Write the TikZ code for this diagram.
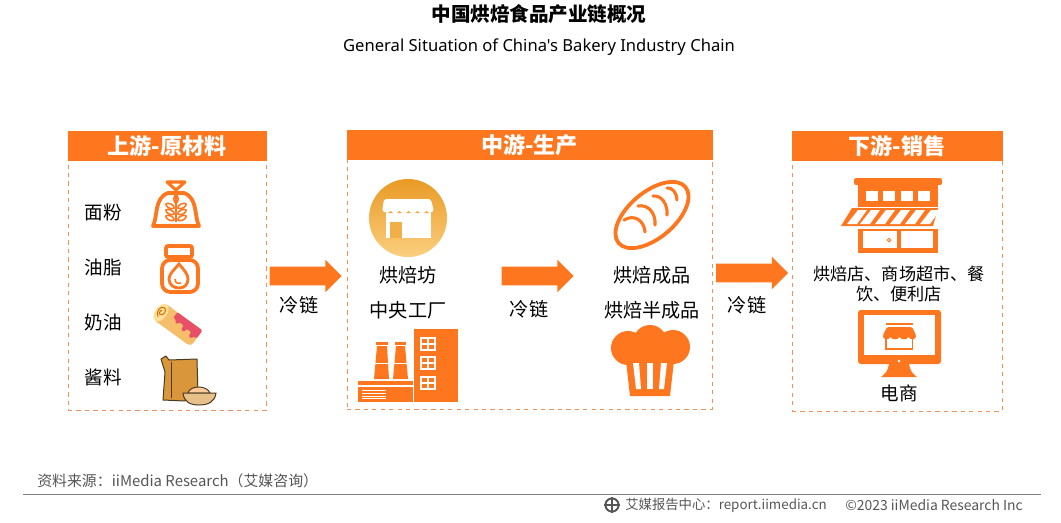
\documentclass[tikz,border=0pt]{standalone}
\usepackage{fontspec}
\setmainfont{Noto Sans CJK SC}
\newfontfamily\latinfont{Noto Sans}
\usetikzlibrary{shapes.geometric, shapes.arrows}
\definecolor{bakeorange}{HTML}{FE771F}
\definecolor{dashorange}{HTML}{F0935A}
\definecolor{footgrey}{HTML}{555555}
\definecolor{rollbody}{HTML}{F6BE6A}
\definecolor{rollend}{HTML}{FBE09A}
\definecolor{rollpink}{HTML}{E8506A}
\definecolor{packbrown}{HTML}{D9963A}
\definecolor{packline}{HTML}{4A3A22}
\definecolor{shoptop}{HTML}{E99A25}
\definecolor{shopbottom}{HTML}{FBCF7F}
\tikzstyle{panel} = [rectangle, draw=dashorange, dashed, line width=0.6pt, inner sep=0pt]
\tikzstyle{header} = [rectangle, fill=bakeorange, draw=bakeorange, line width=0.6pt, text=white, inner sep=0pt,
    minimum height=0.725cm, font=\fontsize{15.7pt}{18pt}\selectfont\bfseries]
\tikzstyle{item} = [inner sep=0pt, text centered, font=\fontsize{13.2pt}{14.4pt}\selectfont]
\tikzstyle{bigitem} = [item, font=\fontsize{13.6pt}{14.4pt}\selectfont]
\tikzstyle{bigarrow} = [single arrow, fill=bakeorange, inner sep=0.225cm,
    minimum height=1.8cm, minimum width=0.8cm, single arrow head extend=0.175cm,
    single arrow tip angle=90]
\tikzstyle{iconline} = [draw=bakeorange, line width=2.7pt]
\tikzstyle{thinline} = [draw=bakeorange, line width=1.1pt]
\tikzstyle{foot} = [inner sep=0pt, text=footgrey]

\begin{document}
\begin{tikzpicture}[x=0.025cm, y=-0.025cm, node distance=1.375cm]
        \useasboundingbox (0,0) rectangle (1061,522);

        % Titles
        \node (title) [inner sep=0pt, font=\fontsize{13.9pt}{16pt}\selectfont\bfseries] at (539,14) {中国烘焙食品产业链概况};
        \node (subtitle) [inner sep=0pt, font=\fontsize{11.8pt}{14pt}\selectfont\latinfont] at (539,47) {General Situation of China's Bakery Industry Chain};

        % Panels
        \node (upbox) [panel, minimum width=4.95cm, minimum height=6.975cm] at (167,270.5) {};
        \node (midbox) [panel, minimum width=9.125cm, minimum height=6.975cm] at (529.5,269.5) {};
        \node (downbox) [panel, minimum width=5.25cm, minimum height=7cm] at (897,271) {};
        \node (uphead) [header, minimum width=4.95cm] at (167,145.5) {上游-原材料};
        \node (midhead) [header, minimum width=9.125cm] at (529.5,145) {中游-生产};
        \node (downhead) [header, minimum width=5.25cm] at (897,146) {下游-销售};

        % Upstream labels
        \node (flour) [item] at (103.5,212.5) {面粉};
        \node (oil) [item, below of=flour] {油脂};
        \node (cream) [item, below of=oil] {奶油};
        \node (sauce) [item, below of=cream] {酱料};

        % Midstream labels
        \node (bakery) [bigitem] at (408,275) {烘焙坊};
        \node (central) [bigitem] at (408,310) {中央工厂};
        \node (finished) [bigitem] at (652,275) {烘焙成品};
        \node (semi) [bigitem] at (652,310) {烘焙半成品};

        % Downstream labels
        \node (shops) [item, text width=4.7cm, font=\fontsize{12.2pt}{14.2pt}\selectfont] at (899,283.5) {烘焙店、商场超市、餐\\饮、便利店};
        \node (online) [item] at (899,393) {电商};

        % Arrows
        \node (arrow1) [bigarrow] at (301,276) {};
        \node (arrow2) [bigarrow] at (533,276) {};
        \node (arrow3) [bigarrow] at (747.5,273) {};
        \node (cold1) [bigitem] at (299,305) {冷链};
        \node (cold2) [bigitem] at (529,309) {冷链};
        \node (cold3) [bigitem] at (747,305) {冷链};

        % Flour bag
        \draw [iconline, line width=2.2pt, line join=round] (167,182) -- (185,182) -- (176,190) -- cycle;
        \draw [iconline, line join=round] (168,193) -- (184,193) .. controls (198,198) and (194,216) .. (199,226) -- (153,226) .. controls (158,216) and (154,198) .. (168,193) -- cycle;
        \draw [thinline] (176,196) -- (176,222);
        \foreach \y in {206,212,218} {
            \draw [thinline, rotate around={-25:(170,\y)}] (170,\y) ellipse (4.5 and 2.2);
            \draw [thinline, rotate around={25:(182,\y)}] (182,\y) ellipse (4.5 and 2.2);
        }
        \draw [thinline] (176,199) ellipse (2.2 and 4);

        % Oil jar
        \draw [iconline, rounded corners=1.5pt] (166,246) rectangle (192,257);
        \draw [iconline, rounded corners=6pt] (162,260) rectangle (198,292);
        \draw [iconline, line width=2pt] (179,264) .. controls (174,270) and (169,274) .. (169,279) .. controls (169,285) and (174,288) .. (179,288) .. controls (184,288) and (188,285) .. (188,279) .. controls (188,274) and (184,270) .. (179,264) -- cycle;
        \draw [thinline] (175,279) .. controls (175,283) and (178,284) .. (181,283);

        % Cream roll
        \begin{scope}[shift={(178,325)}, rotate=-36]
            \fill [rollbody, rounded corners=3pt] (-24,-10) rectangle (23,10);
            \fill [rollpink, rounded corners=1pt] (-8,-10) -- (23,-10) -- (23,0) -- (19,0) -- (19,3) -- (15,3) -- (15,-2) -- (9,-2) -- (9,2) -- (5,2) -- (5,-3) -- (-1,-3) -- (-1,0) -- (-4,0) -- (-4,-3) -- (-8,-3) -- cycle;
            \fill [rollend] (-21,0) ellipse (6 and 10);
            \draw [orange!85!black, line width=0.7pt] (-21,5) .. controls (-26,3) and (-26,-6) .. (-21,-6) .. controls (-17,-6) and (-17,2) .. (-21,2) .. controls (-23,2) and (-23,-3) .. (-21,-2);
        \end{scope}

        % Sauce pack
        \draw [draw=packline, fill=packbrown, line width=0.7pt, line join=round] (161,359) -- (166,356) -- (169,360) -- (197,359) -- (198,395) -- (185,401) -- (163,400) -- (165,372) -- cycle;
        \draw [draw=packline, line width=0.4pt] (171,362) -- (171,398);
        \draw [draw=packline, fill=orange!40!white, line width=0.7pt] (188,393) .. controls (190,385) and (207,385) .. (210,393) -- cycle;
        \draw [draw=packline, fill=packbrown!60!white, line width=0.7pt] (183,393) -- (216,393) .. controls (215,402) and (208,405) .. (199,405) .. controls (190,405) and (184,402) .. (183,393) -- cycle;

        % Bakery shop
        \node (shopcircle) [circle, minimum size=1.95cm, inner sep=0pt, top color=shoptop, bottom color=shopbottom] at (408,218) {};
        \fill [white, rounded corners=2pt] (384,199) -- (431,199) -- (434,212) -- (382,212) -- cycle;
        \fill [white] (386,212) rectangle (431,238);
        \fill [shoptop!60!shopbottom] (390,222) rectangle (402,238);
        \foreach \x in {388,397,406,415,424} {
            \fill [shoptop!70!shopbottom] (\x,213) -- (\x+5,213) -- (\x+2.5,211) -- cycle;
        }

        % Central factory
        \fill [bakeorange] (414,329) rectangle (458,402);
        \fill [bakeorange] (358,387) rectangle (413,402);
        \fill [bakeorange] (358,381) rectangle (413,384.5);
        \fill [bakeorange] (374,379) -- (377,346) -- (387,346) -- (389,379) -- cycle;
        \fill [bakeorange] (393,379) -- (396,346) -- (405,346) -- (408,379) -- cycle;
        \fill [bakeorange] (376,342) rectangle (388,344.5);
        \fill [bakeorange] (395,342) rectangle (406,344.5);
        \fill [white] (375,363) rectangle (389,364);
        \fill [white] (394,363) rectangle (408,364);
        \foreach \y in {338,357,377} {
            \draw [white, line width=0.9pt] (421,\y) rectangle (435,\y+12) (428,\y) -- (428,\y+12) (421,\y+6) -- (435,\y+6);
        }
        \foreach \y in {390,393,396,398.5} {
            \draw [white, line width=0.6pt] (362,\y) -- (386,\y);
        }

        % Bread
        \node (bread) [ellipse, draw=bakeorange, line width=2.7pt, rotate=40, inner sep=0pt, minimum width=2.18cm, minimum height=1.15cm] at (652,215) {};
        \draw [iconline, line width=2.2pt, line cap=round] (624,220) .. controls (634,214) and (644,220) .. (645,232);
        \draw [iconline, line width=2.2pt, line cap=round] (638,206) .. controls (648,204) and (656,213) .. (655,225);
        \draw [iconline, line width=2.2pt, line cap=round] (653,196) .. controls (662,195) and (668,205) .. (667,215);
        \draw [iconline, line width=2.2pt, line cap=round] (667,188) .. controls (672,187) and (677,193) .. (677,200);

        % Chef hat
        \fill [bakeorange] (628,348) circle (17);
        \fill [bakeorange] (650,342) circle (17);
        \fill [bakeorange] (673,347) circle (17);
        \fill [bakeorange] (625,352) -- (675,352) -- (670,396) -- (630,396) -- cycle;
        \fill [white] (633,363) -- (639,363) -- (641,389) -- (636,389) -- cycle;
        \fill [white] (647,363) -- (653,363) -- (653,389) -- (647,389) -- cycle;
        \fill [white] (661,363) -- (667,363) -- (664,389) -- (659,389) -- cycle;

        % Store
        \fill [bakeorange, rounded corners=1.5pt] (854,178) rectangle (942,185);
        \fill [bakeorange] (858,185) rectangle (938,207);
        \foreach \x in {866,883,901,918} {
            \fill [white] (\x,191) rectangle (\x+12,201);
        }
        \fill [bakeorange] (852,208) -- (938,208) -- (933,226) -- (841,226) -- cycle;
        \foreach \x in {847,860,875,890,905,920} {
            \fill [white] (\x,224) -- (\x+10,224) -- (\x+20,210) -- (\x+11,210) -- cycle;
        }
        \fill [bakeorange] (858,229) rectangle (938,253);
        \fill [white] (863,231) rectangle (897,248);
        \fill [white] (901,231) rectangle (933,248);
        \draw [bakeorange, line width=0.7pt] (889,240) circle (1.8);

        % Monitor
        \fill [bakeorange, rounded corners=2pt] (858,310) rectangle (941,364);
        \fill [white] (864,315) rectangle (935,355);
        \fill [white] (899,361) circle (1.3);
        \fill [bakeorange] (889,364) -- (909,364) .. controls (910,371) and (913,374) .. (917,377) -- (881,377) .. controls (885,374) and (888,371) .. (889,364) -- cycle;
        \fill [bakeorange] (886,323) rectangle (913,325);
        \fill [bakeorange, rounded corners=1pt] (887,327) -- (912,327) -- (916,335) .. controls (916,340) and (910,340) .. (908.5,336) .. controls (907,340) and (901,340) .. (899.5,336) .. controls (898,340) and (892,340) .. (890.5,336) .. controls (889,340) and (883,340) .. (883,335) -- cycle;
        \draw [thinline] (886,339) -- (886,349) -- (912.5,349) -- (912.5,339);

        % Footer
        \node (source) [foot, anchor=west, font=\fontsize{10.6pt}{12pt}\selectfont] at (37,481) {资料来源：iiMedia Research（艾媒咨询）};
        \coordinate (ruleleft) at (23,494.5);
        \coordinate (ruleright) at (1041,494.5);
        \draw [footgrey!75, line width=1.3pt] (ruleleft) -- (ruleright);
        \node (globe) [circle, draw=footgrey, line width=1.4pt, minimum size=0.33cm, inner sep=0pt] at (612,505) {};
        \draw [footgrey, line width=0.8pt] (globe.north) -- (globe.south) (globe.west) -- (globe.east);
        \node (report) [foot, anchor=west, font=\fontsize{9.5pt}{11pt}\selectfont] at (625,505) {艾媒报告中心：report.iimedia.cn};
        \node (copyright) [foot, anchor=west, font=\fontsize{9.9pt}{11pt}\selectfont] at (845,505) {©2023 iiMedia Research Inc};

    \end{tikzpicture}
\end{document}
